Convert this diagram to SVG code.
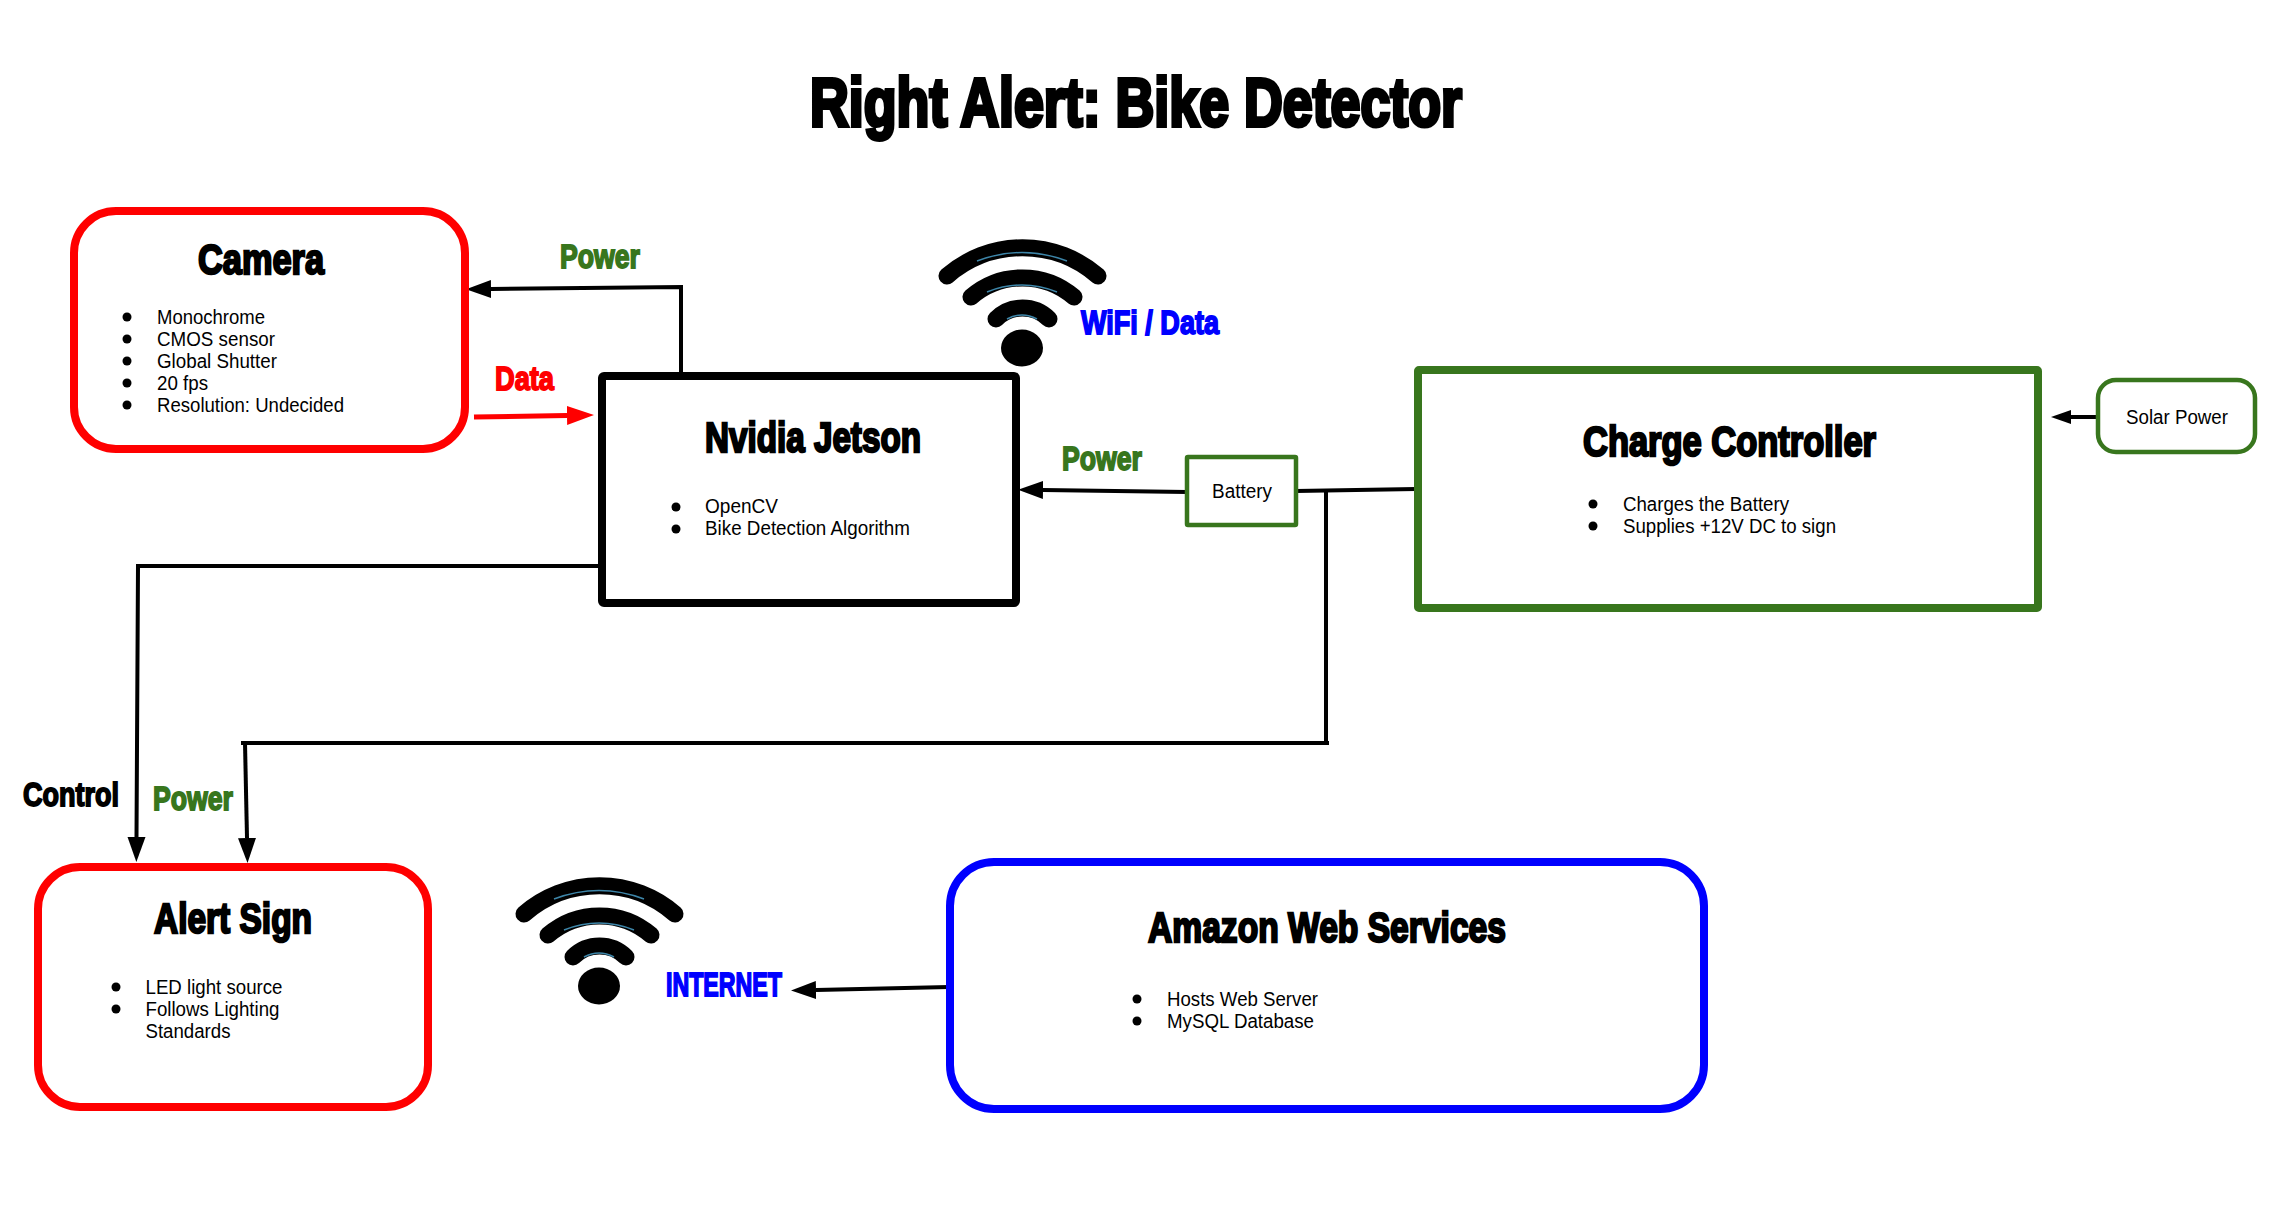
<svg xmlns="http://www.w3.org/2000/svg" xmlns:xlink="http://www.w3.org/1999/xlink" width="2292" height="1208" viewBox="0 0 2292 1208">
<style>
text{font-family:"Liberation Sans",Arial,sans-serif}
.b{font-size:20px;fill:#000}
.h{font-weight:bold;font-size:43px;fill:#000;stroke:#000;stroke-width:2.4px}
.t{font-weight:bold;font-size:68px;fill:#000;stroke:#000;stroke-width:4px}
.l{font-weight:bold;font-size:34px;stroke-width:1.8px}
.g{fill:#38761d;stroke:#38761d}
.r{fill:#ff0000;stroke:#ff0000}
.u{fill:#0000ff;stroke:#0000ff}
.k{fill:#000;stroke:#000}
.box{fill:#fff;stroke-width:8px}
.dot{fill:#000}
.c{fill:none;stroke:#000;stroke-width:4px}
.a{fill:none;stroke:#000;stroke-width:17px;stroke-linecap:round}
.s{fill:none;stroke:#3d85a8;stroke-width:1.5px}
</style>
<defs>
<marker id="ah" markerUnits="userSpaceOnUse" markerWidth="26" markerHeight="20" refX="0" refY="10" orient="auto"><path d="M0,1 L25,10 L0,19 z" fill="#000"/></marker>
<marker id="ahs" markerUnits="userSpaceOnUse" markerWidth="22" markerHeight="16" refX="0" refY="8" orient="auto"><path d="M0,1 L20,8 L0,15 z" fill="#000"/></marker>
<marker id="ahr" markerUnits="userSpaceOnUse" markerWidth="28" markerHeight="20" refX="0" refY="10" orient="auto"><path d="M0,0.500 L27,10 L0,19.500 z" fill="#f00"/></marker>
<g id="wifi">
<path class="a" d="M947,276 A115,115 0 0 1 1098,276"/>
<path class="a" d="M971,297 A79,79 0 0 1 1074,297"/>
<path class="a" d="M996,319 A37.500,37.500 0 0 1 1049,319"/>
<path class="s" d="M977,261 Q1022,244 1067,261"/>
<path class="s" d="M987,292 Q1022,278 1057,292"/>
<path class="s" d="M1007,319 Q1022,311 1037,319"/>
<ellipse cx="1022" cy="348" rx="21" ry="18.500" fill="#000"/>
</g>
</defs>
<rect width="2292" height="1208" fill="#fff"/>
<g id="title"><text class="t" x="810" y="126" textLength="652" lengthAdjust="spacingAndGlyphs">Right Alert: Bike Detector</text></g>

<g id="connectors">
<path class="c" d="M681,374 L681,287 L491,289" marker-end="url(#ah)"/>
<path class="c" style="stroke:#f00;stroke-width:5px" d="M474,417 L567,415.500" marker-end="url(#ahr)"/>
<path class="c" d="M600,566 L138,566 L136.500,837" marker-end="url(#ah)"/>
<path class="c" d="M1187,492 L1043,490" marker-end="url(#ah)"/>
<path class="c" d="M1296,491 L1416,489"/>
<path class="c" d="M1329,743 L241,743"/>
<path class="c" d="M1326,490 L1326,743"/>
<path class="c" d="M245,743 L247,838" marker-end="url(#ah)"/>
<path class="c" d="M2098,417 L2071,417" marker-end="url(#ahs)"/>
<path class="c" d="M949,987 L816,990" marker-end="url(#ah)"/>
</g>

<g id="camera">
<rect class="box" x="74" y="211" width="391" height="238" rx="42" stroke="#ff0000"/>
<text class="h" x="198" y="274" textLength="126" lengthAdjust="spacingAndGlyphs">Camera</text>
<circle class="dot" cx="127" cy="317" r="4.500"/><text class="b" x="157" y="324" textLength="108" lengthAdjust="spacingAndGlyphs">Monochrome</text>
<circle class="dot" cx="127" cy="339" r="4.500"/><text class="b" x="157" y="346" textLength="118" lengthAdjust="spacingAndGlyphs">CMOS sensor</text>
<circle class="dot" cx="127" cy="361" r="4.500"/><text class="b" x="157" y="368" textLength="120" lengthAdjust="spacingAndGlyphs">Global Shutter</text>
<circle class="dot" cx="127" cy="383" r="4.500"/><text class="b" x="157" y="390" textLength="51" lengthAdjust="spacingAndGlyphs">20 fps</text>
<circle class="dot" cx="127" cy="405" r="4.500"/><text class="b" x="157" y="412" textLength="187" lengthAdjust="spacingAndGlyphs">Resolution: Undecided</text>
</g>

<g id="jetson">
<rect class="box" x="602" y="376" width="414" height="227" rx="2" stroke="#000"/>
<text class="h" x="705" y="452" textLength="216" lengthAdjust="spacingAndGlyphs">Nvidia Jetson</text>
<circle class="dot" cx="676" cy="507" r="4.500"/><text class="b" x="705" y="513" textLength="73" lengthAdjust="spacingAndGlyphs">OpenCV</text>
<circle class="dot" cx="676" cy="529" r="4.500"/><text class="b" x="705" y="535" textLength="205" lengthAdjust="spacingAndGlyphs">Bike Detection Algorithm</text>
</g>

<g id="battery">
<rect class="box" style="stroke-width:4.500px" x="1187" y="457" width="109" height="68" rx="1" stroke="#38761d"/>
<text class="b" x="1212" y="498" textLength="60" lengthAdjust="spacingAndGlyphs">Battery</text>
</g>

<g id="charge-controller">
<rect class="box" x="1418" y="370" width="620" height="238" rx="1" stroke="#38761d"/>
<text class="h" x="1583" y="456" textLength="293" lengthAdjust="spacingAndGlyphs">Charge Controller</text>
<circle class="dot" cx="1593" cy="504" r="4.500"/><text class="b" x="1623" y="511" textLength="166" lengthAdjust="spacingAndGlyphs">Charges the Battery</text>
<circle class="dot" cx="1593" cy="526" r="4.500"/><text class="b" x="1623" y="533" textLength="213" lengthAdjust="spacingAndGlyphs">Supplies +12V DC to sign</text>
</g>

<g id="solar-power">
<rect class="box" style="stroke-width:4.500px" x="2098" y="380" width="157" height="72" rx="18" stroke="#38761d"/>
<text class="b" x="2126" y="424" textLength="102" lengthAdjust="spacingAndGlyphs">Solar Power</text>
</g>

<g id="alert-sign">
<rect class="box" x="38" y="867" width="390" height="240" rx="42" stroke="#ff0000"/>
<text class="h" x="154" y="933" textLength="158" lengthAdjust="spacingAndGlyphs">Alert Sign</text>
<circle class="dot" cx="116" cy="987" r="4.500"/><text class="b" x="145.500" y="994" textLength="137" lengthAdjust="spacingAndGlyphs">LED light source</text>
<circle class="dot" cx="116" cy="1009" r="4.500"/><text class="b" x="145.500" y="1016" textLength="134" lengthAdjust="spacingAndGlyphs">Follows Lighting</text>
<text class="b" x="145.500" y="1038" textLength="85" lengthAdjust="spacingAndGlyphs">Standards</text>
</g>

<g id="aws">
<rect class="box" x="950" y="862" width="754" height="247" rx="44" stroke="#0000ff"/>
<text class="h" x="1148" y="942" textLength="358" lengthAdjust="spacingAndGlyphs">Amazon Web Services</text>
<circle class="dot" cx="1137" cy="999" r="4.500"/><text class="b" x="1167" y="1006" textLength="151" lengthAdjust="spacingAndGlyphs">Hosts Web Server</text>
<circle class="dot" cx="1137" cy="1021" r="4.500"/><text class="b" x="1167" y="1028" textLength="147" lengthAdjust="spacingAndGlyphs">MySQL Database</text>
</g>

<g id="wifi-data"><use href="#wifi" xlink:href="#wifi"/></g>
<g id="wifi-internet"><use href="#wifi" xlink:href="#wifi" transform="translate(-423,638)"/></g>

<g id="labels">
<text class="l g" x="560" y="268" textLength="80" lengthAdjust="spacingAndGlyphs">Power</text>
<text class="l r" x="495" y="390" textLength="59" lengthAdjust="spacingAndGlyphs">Data</text>
<text class="l u" x="1081" y="334" textLength="138" lengthAdjust="spacingAndGlyphs">WiFi / Data</text>
<text class="l g" x="1062" y="470" textLength="80" lengthAdjust="spacingAndGlyphs">Power</text>
<text class="l k" x="23" y="806" textLength="96" lengthAdjust="spacingAndGlyphs">Control</text>
<text class="l g" x="153" y="810" textLength="80" lengthAdjust="spacingAndGlyphs">Power</text>
<text class="l u" x="666" y="996" textLength="116" lengthAdjust="spacingAndGlyphs">INTERNET</text>
</g>
</svg>
